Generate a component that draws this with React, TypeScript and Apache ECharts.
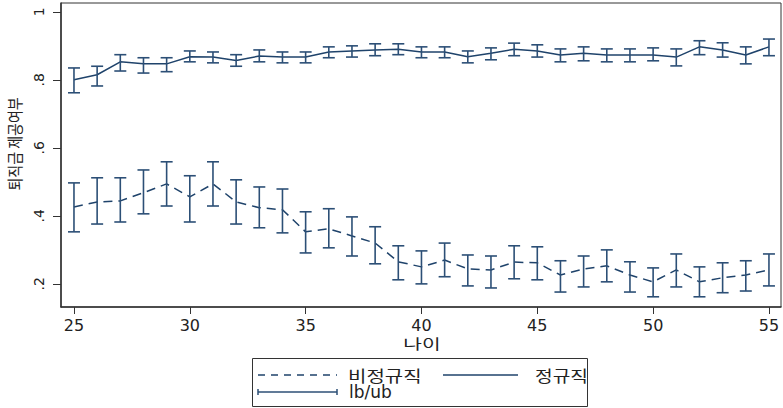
import React, { useEffect, useRef } from "react";
import * as echarts from "echarts";

// Age (나이)
const ages = [25, 26, 27, 28, 29, 30, 31, 32, 33, 34, 35, 36, 37, 38, 39, 40, 41, 42, 43, 44, 45, 46, 47, 48, 49, 50, 51, 52, 53, 54, 55];

// 정규직: share receiving severance pay, with lower/upper bounds
const regMean = [0.8, 0.815, 0.853, 0.847, 0.847, 0.868, 0.867, 0.857, 0.87, 0.867, 0.867, 0.882, 0.885, 0.888, 0.89, 0.882, 0.882, 0.868, 0.878, 0.89, 0.885, 0.873, 0.878, 0.873, 0.873, 0.873, 0.867, 0.897, 0.888, 0.873, 0.897];
const regLo = [0.762, 0.782, 0.826, 0.82, 0.824, 0.853, 0.85, 0.84, 0.853, 0.85, 0.85, 0.865, 0.867, 0.871, 0.874, 0.865, 0.865, 0.85, 0.859, 0.871, 0.867, 0.853, 0.856, 0.853, 0.853, 0.856, 0.841, 0.874, 0.867, 0.847, 0.871];
const regHi = [0.835, 0.84, 0.874, 0.865, 0.865, 0.885, 0.882, 0.874, 0.888, 0.882, 0.882, 0.897, 0.9, 0.906, 0.906, 0.897, 0.897, 0.885, 0.894, 0.908, 0.903, 0.891, 0.897, 0.891, 0.891, 0.894, 0.891, 0.915, 0.909, 0.897, 0.92];

// 비정규직
const nonMean = [0.426, 0.441, 0.444, 0.468, 0.494, 0.456, 0.494, 0.441, 0.424, 0.418, 0.353, 0.362, 0.341, 0.32, 0.265, 0.25, 0.27, 0.244, 0.241, 0.264, 0.262, 0.226, 0.244, 0.253, 0.226, 0.206, 0.241, 0.206, 0.218, 0.226, 0.241];
const nonLo = [0.353, 0.376, 0.382, 0.406, 0.429, 0.382, 0.429, 0.376, 0.365, 0.35, 0.291, 0.306, 0.282, 0.259, 0.212, 0.2, 0.221, 0.194, 0.188, 0.215, 0.212, 0.176, 0.191, 0.206, 0.176, 0.162, 0.191, 0.162, 0.174, 0.179, 0.194];
const nonHi = [0.497, 0.512, 0.512, 0.535, 0.559, 0.518, 0.559, 0.506, 0.485, 0.479, 0.412, 0.421, 0.397, 0.368, 0.312, 0.297, 0.32, 0.285, 0.282, 0.312, 0.309, 0.268, 0.282, 0.3, 0.265, 0.247, 0.288, 0.25, 0.262, 0.268, 0.288];

const xTicks = [25, 30, 35, 40, 45, 50, 55];
const yTicks = [0.2, 0.4, 0.6, 0.8, 1];
const yTickText = [".2", ".4", ".6", ".8", "1"];

const LINE = "#1f436b";
const BAR = "#2c4f76";
const TEXT = "#222";
const FONT = "'DejaVu Sans', 'Noto Sans CJK KR', sans-serif";
const KFONT = "'Noto Sans CJK KR', 'DejaVu Sans', sans-serif";

const fmtY = (v: number) => {
  const i = yTicks.findIndex((t) => Math.abs(t - v) < 1e-6);
  return i >= 0 ? yTickText[i] : "";
};

function errorBars(mean: number[], lo: number[], hi: number[]) {
  return {
    type: "custom",
    silent: true,
    data: ages.map((a, i) => [a, lo[i], hi[i], mean[i]]),
    encode: { x: 0, y: [1, 2] },
    renderItem: (_params: any, api: any) => {
      const x = api.value(0);
      const p1 = api.coord([x, api.value(1)]);
      const p2 = api.coord([x, api.value(2)]);
      const w = 6;
      const style = { stroke: BAR, lineWidth: 1.6 };
      return {
        type: "group",
        children: [
          { type: "line", shape: { x1: p1[0], y1: p1[1], x2: p2[0], y2: p2[1] }, style },
          { type: "line", shape: { x1: p1[0] - w, y1: p1[1], x2: p1[0] + w, y2: p1[1] }, style },
          { type: "line", shape: { x1: p2[0] - w, y1: p2[1], x2: p2[0] + w, y2: p2[1] }, style },
        ],
      };
    },
    z: 3,
  };
}

export default function App() {
  const ref = useRef<HTMLDivElement>(null);

  useEffect(() => {
    if (!ref.current) return;
    const chart = echarts.init(ref.current, undefined, { renderer: "svg" });
    const legendY1 = 375;
    const legendY2 = 392;
    chart.setOption({
      animation: false,
      backgroundColor: "#fff",
      textStyle: { fontFamily: FONT },
      grid: {
        left: 61,
        top: 3,
        right: 2,
        bottom: 101,
        show: true,
        borderColor: "#333",
        borderWidth: 1,
        backgroundColor: "#fff",
      },
      xAxis: {
        type: "value",
        min: 24.44,
        max: 55.52,
        axisLine: { show: true, lineStyle: { color: "#333", width: 1.5 } },
        axisTick: { show: true, length: 7, lineStyle: { color: "#333" }, customValues: xTicks },
        axisLabel: { color: TEXT, fontSize: 16, margin: 10, customValues: xTicks, fontFamily: FONT },
        splitLine: { show: false },
      },
      yAxis: {
        type: "value",
        min: 0.132,
        max: 1.026,
        axisLine: { show: true, lineStyle: { color: "#333", width: 1.5 } },
        axisTick: { show: true, length: 8, lineStyle: { color: "#333" }, customValues: yTicks },
        axisLabel: {
          color: TEXT,
          fontSize: 14,
          margin: 15,
          rotate: 90,
          customValues: yTicks,
          formatter: (v: number) => fmtY(v),
          fontFamily: FONT,
        },
        splitLine: { show: false },
      },
      series: [
        {
          name: "비정규직",
          type: "line",
          data: ages.map((a, i) => [a, nonMean[i]]),
          symbol: "none",
          lineStyle: { color: LINE, width: 1.5, type: [9, 6] },
          z: 2,
        },
        {
          name: "정규직",
          type: "line",
          data: ages.map((a, i) => [a, regMean[i]]),
          symbol: "none",
          lineStyle: { color: LINE, width: 1.5 },
          z: 2,
        },
        errorBars(nonMean, nonLo, nonHi),
        errorBars(regMean, regLo, regHi),
      ],
      graphic: [
        // axis titles
        {
          type: "text",
          x: 422,
          y: 343,
          scaleX: 1.45,
          style: { text: "나이", fontSize: 14, fill: TEXT, fontFamily: KFONT, align: "center", verticalAlign: "middle" },
        },
        {
          type: "text",
          x: 14,
          y: 144,
          rotation: Math.PI / 2,
          scaleY: 1.15,
          style: { text: "퇴직금 제공여부", fontSize: 14, fill: TEXT, fontFamily: KFONT, align: "center", verticalAlign: "middle" },
        },
        // legend
        {
          type: "rect",
          shape: { x: 252.5, y: 358.5, width: 335, height: 48 },
          style: { fill: "#fff", stroke: "#333", lineWidth: 1 },
        },
        {
          type: "line",
          shape: { x1: 258, y1: legendY1, x2: 337, y2: legendY1 },
          style: { stroke: LINE, lineWidth: 1.5, lineDash: [7, 6] },
        },
        {
          type: "text",
          x: 348,
          y: legendY1,
          scaleX: 1.25,
          style: { text: "비정규직", fontSize: 16, fill: TEXT, fontFamily: KFONT, verticalAlign: "middle" },
        },
        {
          type: "line",
          shape: { x1: 443, y1: legendY1, x2: 518, y2: legendY1 },
          style: { stroke: LINE, lineWidth: 1.5 },
        },
        {
          type: "text",
          x: 535,
          y: legendY1,
          scaleX: 1.2,
          style: { text: "정규직", fontSize: 16, fill: TEXT, fontFamily: KFONT, verticalAlign: "middle" },
        },
        {
          type: "line",
          shape: { x1: 258, y1: legendY2, x2: 337, y2: legendY2 },
          style: { stroke: BAR, lineWidth: 1.5 },
        },
        {
          type: "line",
          shape: { x1: 258, y1: legendY2 - 3, x2: 258, y2: legendY2 + 3 },
          style: { stroke: BAR, lineWidth: 1.5 },
        },
        {
          type: "line",
          shape: { x1: 337, y1: legendY2 - 3, x2: 337, y2: legendY2 + 3 },
          style: { stroke: BAR, lineWidth: 1.5 },
        },
        {
          type: "text",
          x: 349,
          y: legendY2,
          style: { text: "lb/ub", fontSize: 17, fill: TEXT, fontFamily: FONT, verticalAlign: "middle" },
        },
      ],
    });
    return () => chart.dispose();
  }, []);

  return (
    <div
      ref={ref}
      style={{ position: "fixed", left: 0, top: 0, width: 783, height: 408, background: "#fff" }}
    />
  );
}
